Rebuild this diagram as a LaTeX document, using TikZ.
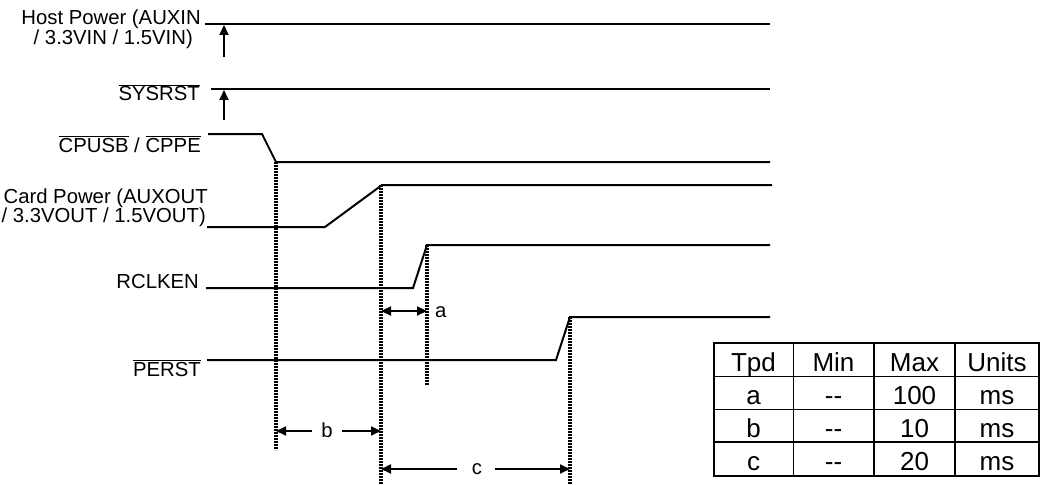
\documentclass[tikz,border=0pt]{standalone}
\usepackage{fontspec}
\setmainfont{Liberation Sans}
\usetikzlibrary{arrows.meta}
\newcommand{\olbar}[1]{$\overline{\mbox{#1}}$}
\begin{document}
\begin{tikzpicture}[x=1pt,y=-1pt,
  sig/.style={line width=2pt,line join=miter},
  guide/.style={line width=3.4pt,dash pattern=on 2pt off 1pt},
  lbl/.style={inner sep=0pt,font=\fontsize{20.3}{21}\selectfont},
  tip/.style={-{Triangle[length=10pt,width=9pt]},line width=1.8pt},
  dtip/.style={{Triangle[length=10pt,width=9pt]}-{Triangle[length=10pt,width=9pt]},line width=1.8pt},
  cell/.style={inner sep=0pt,anchor=base,font=\fontsize{26}{26}\selectfont},
  thinrule/.style={line width=1pt},
  thickrule/.style={line width=2.2pt}]
\useasboundingbox (0,0) rectangle (1040,484);

% ---------- labels ----------
\node[lbl,anchor=base east] (hp1) at (201,24.5) {Host Power (AUXIN};
\node[lbl,anchor=base east] (hp2) at (193,45) {/ 3.3VIN / 1.5VIN)};
\node[lbl,anchor=base east] (sys) at (200,101) {\olbar{SYSRST}};
\node[lbl,anchor=base east] (cpu) at (201,152) {\olbar{CPUSB} / \olbar{CPPE}};
\node[lbl,anchor=base east] (cp1) at (208,203) {Card Power (AUXOUT};
\node[lbl,anchor=base east] (cp2) at (206,222) {/ 3.3VOUT / 1.5VOUT)};
\node[lbl,anchor=base east] (rck) at (199,288) {RCLKEN};
\node[lbl,anchor=base east] (per) at (201,376) {\olbar{PERST}};

% ---------- signal coordinates ----------
\coordinate (h0) at (205,24);  \coordinate (h1) at (770,24);
\coordinate (s0) at (211,89);  \coordinate (s1) at (770,89);
\coordinate (c0) at (208,134); \coordinate (c1) at (262,134);
\coordinate (c2) at (276,162); \coordinate (c3) at (770,162);
\coordinate (p0) at (207,227); \coordinate (p1) at (325,227);
\coordinate (p2) at (382,185); \coordinate (p3) at (772,185);
\coordinate (r0) at (206,288); \coordinate (r1) at (413,288);
\coordinate (r2) at (427,245); \coordinate (r3) at (770,245);
\coordinate (e0) at (207,360); \coordinate (e1) at (556,360);
\coordinate (e2) at (570,317); \coordinate (e3) at (770,317);

\draw[sig] (h0) -- (h1);
\draw[sig] (s0) -- (s1);
\draw[sig] (c0) -- (c1) -- (c2) -- (c3);
\draw[sig] (p0) -- (p1) -- (p2) -- (p3);
\draw[sig] (r0) -- (r1) -- (r2) -- (r3);
\draw[sig] (e0) -- (e1) -- (e2) -- (e3);

% ---------- rising-edge arrows ----------
\coordinate (ha0) at (224,57); \coordinate (ha1) at (224,25);
\coordinate (sa0) at (224,120); \coordinate (sa1) at (224,90);
\draw[tip] (ha0) -- (ha1);
\draw[tip] (sa0) -- (sa1);

% ---------- dotted guides ----------
\coordinate (g1e) at (276,450);
\coordinate (g2t) at (381,185); \coordinate (g2e) at (381,484);
\coordinate (g3e) at (427,385);
\coordinate (g4e) at (570,484);
\draw[guide] (c2) -- (g1e);
\draw[guide] (g2t) -- (g2e);
\draw[guide] (r2) -- (g3e);
\draw[guide] (e2) -- (g4e);

% ---------- timing arrows ----------
\coordinate (a0) at (381,311); \coordinate (a1) at (427,311);
\draw[dtip] (a0) -- (a1);
\node[lbl,anchor=base west] (la) at (435,317) {a};

\node[lbl,anchor=base] (lb) at (327,437) {b};
\coordinate (b0) at (276,431); \coordinate (b1) at (381,431);
\coordinate (bm0) at (312,431); \coordinate (bm1) at (342,431);
\draw[tip] (bm0) -- (b0);
\draw[tip] (bm1) -- (b1);

\node[lbl,anchor=base] (lc) at (477,474) {c};
\coordinate (cc0) at (381,469); \coordinate (cc1) at (570,469);
\coordinate (cm0) at (457,469); \coordinate (cm1) at (495,469);
\draw[tip] (cm0) -- (cc0);
\draw[tip] (cm1) -- (cc1);

% ---------- table ----------
\coordinate (t00) at (714,343); \coordinate (t11) at (1039,476);
\draw[thinrule] (793,343) -- (793,476);
\draw[thinrule] (714,376) -- (1039,376);
\draw[thinrule] (714,409) -- (1039,409);
\draw[thickrule] (714,442) -- (1039,442);
\draw[thickrule] (874,343) -- (874,476);
\draw[thickrule] (955,343) -- (955,476);
\draw[thickrule] (t00) rectangle (t11);

\node[cell] (t1) at (753.5,371) {Tpd};
\node[cell] (t2) at (833.5,371) {Min};
\node[cell] (t3) at (914.5,371) {Max};
\node[cell] (t4) at (997,371) {Units};
\node[cell] (a1c) at (753.5,404) {a};
\node[cell] (a2c) at (833.5,404) {-{}-};
\node[cell] (a3c) at (914.5,404) {100};
\node[cell] (a4c) at (997,404) {ms};
\node[cell] (b1c) at (753.5,437) {b};
\node[cell] (b2c) at (833.5,437) {-{}-};
\node[cell] (b3c) at (914.5,437) {10};
\node[cell] (b4c) at (997,437) {ms};
\node[cell] (c1c) at (753.5,470) {c};
\node[cell] (c2c) at (833.5,470) {-{}-};
\node[cell] (c3c) at (914.5,470) {20};
\node[cell] (c4c) at (997,470) {ms};
\end{tikzpicture}
\end{document}
